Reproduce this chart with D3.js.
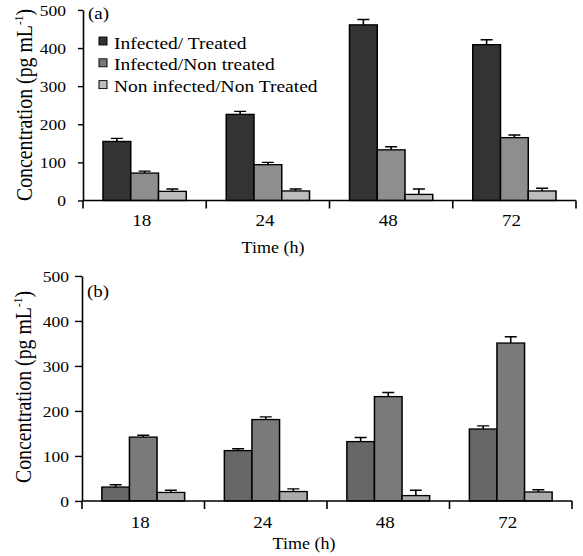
<!DOCTYPE html>
<html>
<head>
<meta charset="utf-8">
<script src="https://cdn.jsdelivr.net/npm/d3@7"></script>
<style>
  body { margin: 0; background: #fff; }
  text { font-family: "Liberation Serif", "Times New Roman", serif; fill: #000; }
</style>
</head>
<body>
<div id="chart"></div>
<script>
// categories / labels
const times = ["18", "24", "48", "72"];
const groups = ["Infected/ Treated", "Infected/Non treated", "Non infected/Non Treated"];
const yTicks = [0, 100, 200, 300, 400, 500];

// panel (a) values (pg/mL) and error bars
const aTreated = [155, 226, 461, 409];
const aTreatedErr = [8, 8, 14, 13];
const aNonTreated = [72, 94, 133, 165];
const aNonTreatedErr = [5, 6, 8, 7];
const aNonInfected = [24, 25, 16, 25];
const aNonInfectedErr = [6, 5, 14, 7];

// panel (b)
const bTreated = [31, 112, 132, 160];
const bTreatedErr = [5, 4, 9, 7];
const bNonTreated = [142, 181, 232, 351];
const bNonTreatedErr = [4, 6, 9, 14];
const bNonInfected = [19, 21, 12, 20];
const bNonInfectedErr = [5, 6, 12, 5];

const width = 583, height = 556;
const SY = 0.88;            // the scan is a little squashed vertically
const Y = p => p / SY;      // page pixel -> viewBox y

const svg = d3.create("svg")
  .attr("width", width)
  .attr("height", height)
  .attr("viewBox", [0, 0, width, height / SY])
  .attr("preserveAspectRatio", "none");

function panel(o) {
  const g = svg.append("g");
  const x0 = d3.scaleBand(times, [o.left, o.right]);
  const x1 = d3.scaleBand(d3.range(groups.length), [0, x0.bandwidth()]).paddingOuter(0.72);
  const y = d3.scaleLinear([0, 500], [Y(o.zero), Y(o.top)]);

  const rows = times.flatMap((t, i) => o.vals.map((v, k) => ({t, k, v: v[i], e: o.errs[k][i]})));
  const cx = d => x0(d.t) + x1(d.k) + x1.bandwidth() / 2;

  // error bars (drawn first, bar covers the lower part)
  g.append("g")
    .attr("stroke", "#000")
    .attr("stroke-width", 1.6)
    .selectAll("path")
    .data(rows)
    .join("path")
      .attr("fill", "none")
      .attr("d", d => `M${cx(d)},${y(d.v)}V${y(d.v + d.e)}M${cx(d) - 6},${y(d.v + d.e)}H${cx(d) + 6}`);

  g.append("g")
    .attr("stroke", "#000")
    .attr("stroke-width", 1.5)
    .selectAll("rect")
    .data(rows)
    .join("rect")
      .attr("x", d => x0(d.t) + x1(d.k))
      .attr("width", x1.bandwidth())
      .attr("y", d => y(d.v))
      .attr("height", d => y(0) - y(d.v))
      .attr("fill", d => o.colors[d.k]);

  // y axis
  const ya = g.append("g")
    .attr("transform", `translate(${o.left},0)`)
    .call(d3.axisLeft(y).tickValues(yTicks).tickSize(o.tickLen).tickPadding(o.pad).tickSizeOuter(0))
    .attr("font-size", 17.5);
  ya.selectAll("line, path").attr("stroke", "#000").attr("stroke-width", 1.6);
  ya.selectAll("text").attr("dy", "0.34em");

  // x axis: baseline with ticks on category boundaries
  const bounds = times.map(t => x0(t)).concat([o.right]);
  g.append("line")
    .attr("x1", o.left).attr("x2", o.right)
    .attr("y1", y(0)).attr("y2", y(0))
    .attr("stroke", "#000").attr("stroke-width", 1.8);
  g.append("g")
    .selectAll("line")
    .data(bounds)
    .join("line")
      .attr("x1", d => d).attr("x2", d => d)
      .attr("y1", y(0)).attr("y2", y(0) + Y(8))
      .attr("stroke", "#000").attr("stroke-width", 1.6);

  const xa = g.append("g")
    .attr("transform", `translate(0,${y(0)})`)
    .call(d3.axisBottom(x0).tickSize(0))
    .attr("font-size", 19);
  xa.select(".domain").remove();
  xa.selectAll("text").attr("y", Y(o.labOff)).attr("dy", 0).attr("dx", -3);

  g.append("text")
    .attr("x", o.titleX).attr("y", Y(o.titleY))
    .attr("text-anchor", "middle")
    .attr("font-size", 18)
    .text("Time (h)");

  const yl = g.append("text")
    .attr("transform", `translate(${o.left - 51},${Y(o.labelMid)}) rotate(-90)`)
    .attr("text-anchor", "middle")
    .attr("font-size", 22.5);
  yl.append("tspan").text("Concentration (pg mL");
  yl.append("tspan").attr("font-size", 13).attr("dy", -9).text("-1");
  yl.append("tspan").attr("dy", 9).text(")");

  g.append("text")
    .attr("x", o.left + 5).attr("y", Y(o.tagY))
    .attr("font-size", 19)
    .text(o.tag);
}

panel({
  left: 83, right: 576, zero: 200.5, top: 10,
  vals: [aTreated, aNonTreated, aNonInfected],
  errs: [aTreatedErr, aNonTreatedErr, aNonInfectedErr],
  colors: ["#333333", "#8e8e8e", "#bdbdbd"],
  tickLen: 5, pad: 12, labOff: 26, titleX: 273, titleY: 253,
  labelMid: 105, tag: "(a)", tagY: 19
});

panel({
  left: 82, right: 572, zero: 501, top: 276,
  vals: [bTreated, bNonTreated, bNonInfected],
  errs: [bTreatedErr, bNonTreatedErr, bNonInfectedErr],
  colors: ["#666666", "#7a7a7a", "#aaaaaa"],
  tickLen: 7, pad: 6, labOff: 27, titleX: 304, titleY: 549,
  labelMid: 387, tag: "(b)", tagY: 297
});

// legend for panel (a)
const legendColors = ["#333333", "#777777", "#bdbdbd"];
const legend = svg.append("g")
  .selectAll("g")
  .data(groups)
  .join("g")
    .attr("transform", (d, i) => `translate(99,${Y(37 + i * 21.8)})`);
legend.append("rect")
  .attr("width", 8).attr("height", Y(8))
  .attr("fill", (d, i) => legendColors[i])
  .attr("stroke", "#000").attr("stroke-width", 1);
legend.append("text")
  .attr("x", 15).attr("y", Y(11.5))
  .attr("font-size", 19.5)
  .text(d => d);

document.querySelector("#chart").appendChild(svg.node());
</script>
</body>
</html>
